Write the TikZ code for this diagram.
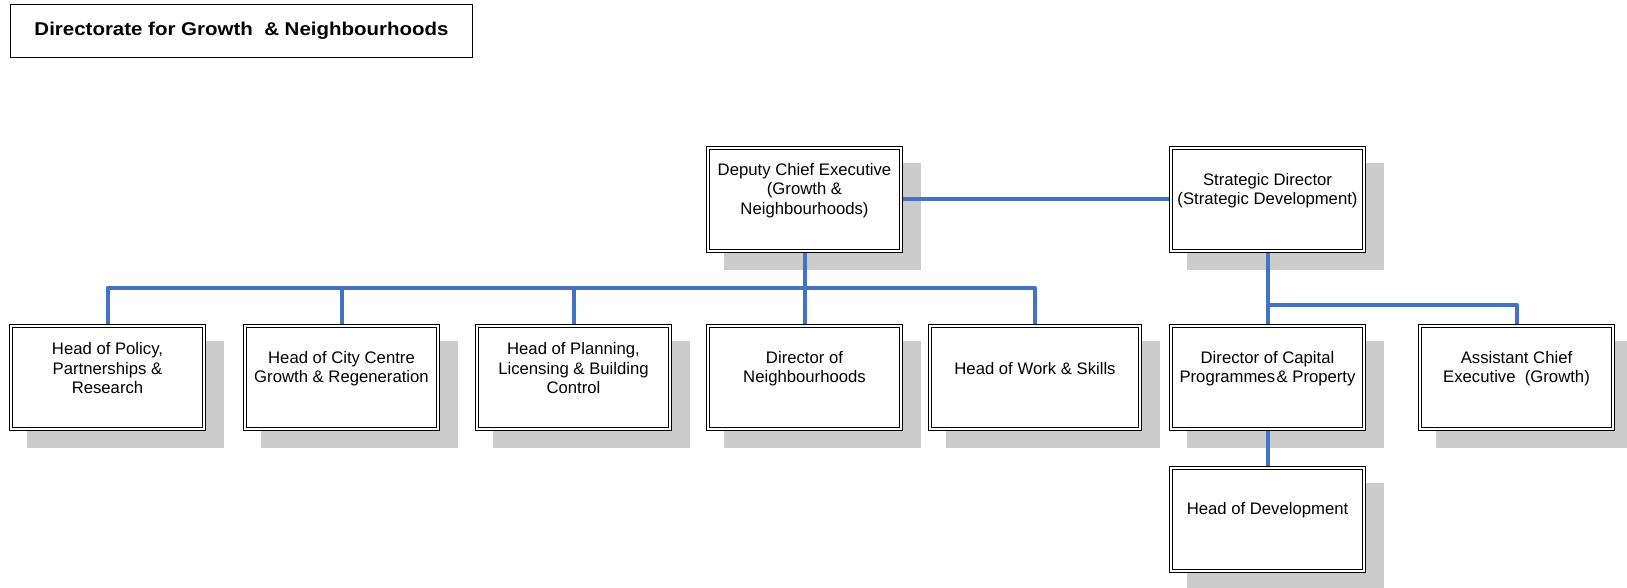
\documentclass[tikz,border=0pt]{standalone}
\usepackage{fontspec}
\setmainfont{Liberation Sans}
\usepackage{graphicx}
\usetikzlibrary{calc}
\definecolor{connblue}{RGB}{68,114,196}
\definecolor{shadowgray}{RGB}{204,204,204}
\pgfdeclarelayer{shadowlayer}
\pgfdeclarelayer{connlayer}
\pgfsetlayers{shadowlayer,connlayer,main}
\tikzset{
  orgbox/.style={draw=black, line width=1.2pt, double=white, double distance=2pt,
    fill=white, inner sep=0pt, minimum height=102.6pt},
  orglabel/.style={align=center, inner sep=0pt, font=\fontsize{16.7}{19.5}\selectfont},
  conn/.style={draw=connblue, line width=4pt, line join=round},
  shadowbox/.style={fill=shadowgray},
  titlebox/.style={draw=black, line width=1.2pt, inner sep=0pt,
    minimum width=462pt, minimum height=53pt},
}
\newcommand{\myorgbox}[5]{%
  \begin{pgfonlayer}{shadowlayer}
    \fill[shadowbox] (#2+18,#3+17) rectangle ++(#4,107);
  \end{pgfonlayer}
  \node[orgbox, minimum width={#4*1pt-4.4pt}] (#1) at (#2+#4/2,#3+53.5) {};
  \node[orglabel] (#1-t) at (#2+#4/2,#3+44.5) {#5};
}
\begin{document}
\begin{tikzpicture}[x=1pt,y=-1pt]
\useasboundingbox (0,0) rectangle (1627,588);
\begin{pgfonlayer}{shadowlayer}
  \fill[white] (0,0) rectangle (1627,588);
\end{pgfonlayer}

\node[titlebox] (title) at (241.5,31)
  {\resizebox{414pt}{\height}{\fontsize{18.5}{21}\selectfont\bfseries Directorate for Growth\ \ \& Neighbourhoods}};

\myorgbox{deputy}{706}{146}{197}{Deputy Chief Executive\\(Growth \&\\Neighbourhoods)}
\myorgbox{strategic}{1169}{146}{197}{Strategic Director\\(Strategic Development)}
\myorgbox{policy}{9}{324}{197}{Head of Policy,\\Partnerships \&\\Research}
\myorgbox{city}{243}{324}{197}{Head of City Centre\\Growth \& Regeneration}
\myorgbox{planning}{475}{324}{197}{Head of Planning,\\Licensing \& Building\\Control}
\myorgbox{neigh}{706}{324}{197}{Director of\\Neighbourhoods}
\myorgbox{work}{928}{324}{214}{Head of Work \& Skills}
\myorgbox{capital}{1169}{324}{197}{Director of Capital\\Programmes\hspace{1.5pt}\& Property}
\myorgbox{assistant}{1418}{324}{197}{Assistant Chief\\Executive\ \ (Growth)}
\myorgbox{headdev}{1169}{466}{197}{Head of Development}

\coordinate (bus) at (0,288);
\coordinate (bustwo) at (0,305);
\begin{pgfonlayer}{connlayer}
  \draw[conn] (deputy.east) -- (strategic.west);
  \draw[conn] (deputy.south) -- (deputy.south |- bus);
  \draw[conn] (policy.north) |- (work.north |- bus) -- (work.north);
  \draw[conn] (city.north) -- (city.north |- bus);
  \draw[conn] (planning.north) -- (planning.north |- bus);
  \draw[conn] (neigh.north) -- (neigh.north |- bus);
  \draw[conn] (strategic.south) -- (capital.north);
  \draw[conn] (strategic.south |- bustwo) -| (assistant.north);
  \draw[conn] (capital.south) -- (headdev.north);
\end{pgfonlayer}
\end{tikzpicture}
\end{document}
